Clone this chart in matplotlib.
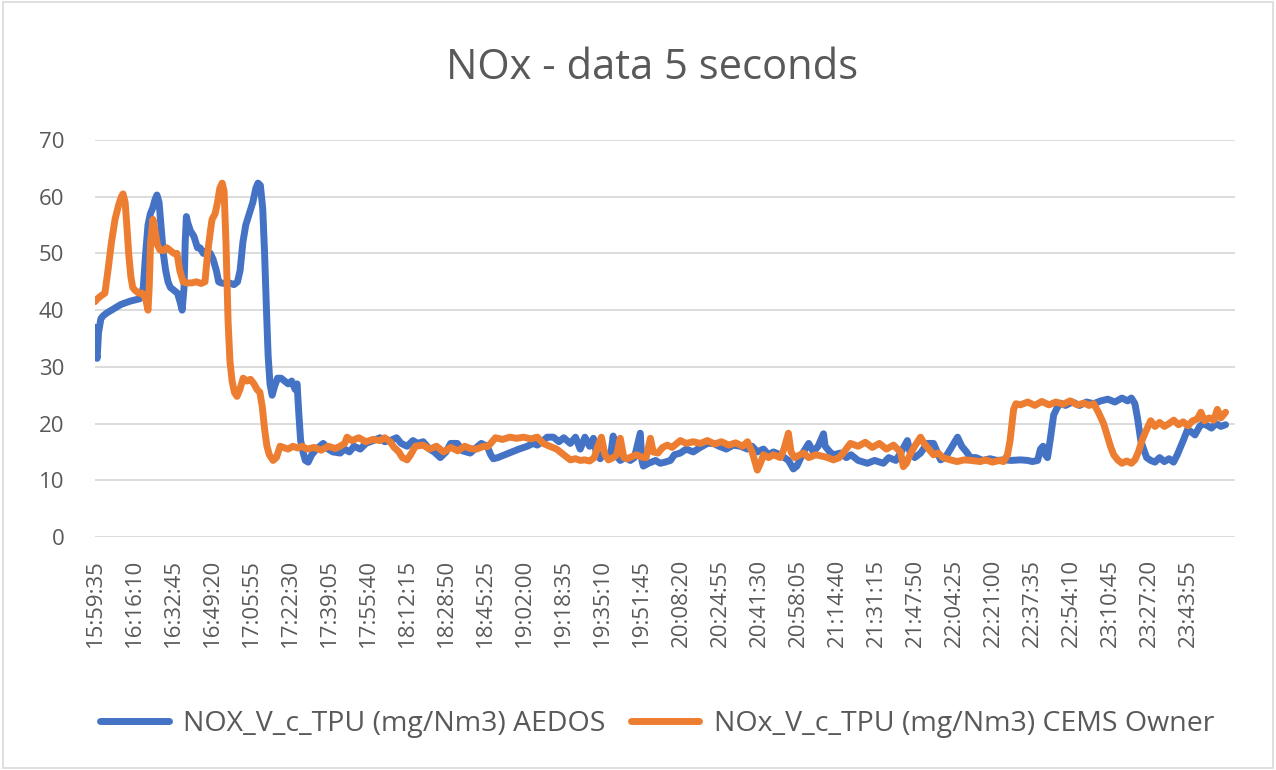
import matplotlib
matplotlib.use("Agg")
import matplotlib.pyplot as plt
from matplotlib.patches import Rectangle

# ---- data (minutes elapsed since 15:59:35, values in mg/Nm3) ----
aedos_t = [0, 0.4, 0.9, 1.5, 2.5, 3.5, 5, 7, 9, 11, 13, 15, 17, 19, 20.5, 21.5, 22.5, 23.5, 24.5, 25.5,
           26.3, 27.2, 28, 29, 30, 31, 32, 33.5, 35, 36.1, 37, 37.8, 38.3, 38.8, 39.3, 40.5, 42, 43.5, 44.6, 46,
           47.5, 49, 50.1, 51.5, 52.5, 53.5, 55, 57, 59, 60.5, 61.6, 62.8, 64, 65.5, 67, 68.3, 69.2, 70.2, 71.2, 72,
           72.8, 73.5, 74.3, 75.2, 76.2, 77.5, 79, 80.5, 82, 83.5, 85, 85.8, 86.5, 87.3, 88.3, 89.3, 90.5, 92, 94, 96.9,
           99, 101, 104.1, 106, 108, 110, 112.6, 115, 118.1, 121, 123, 125.3, 128, 130, 132.5, 135, 137, 139.3, 142, 144,
           146.6, 149, 151, 153.8, 156, 159.3, 162, 164, 166.5, 168, 169.1, 171, 174, 177, 180, 183.5, 186, 187.8, 190.3, 192,
           194.6, 197, 199, 201.8, 204, 206, 208, 210, 211.6, 213, 214.5, 216, 218.8, 220, 221, 223, 225, 227.3, 229, 231.5,
           232.2, 232.8, 235, 238, 240, 242, 244.3, 246, 248.5, 251, 254, 257, 260, 262.5, 265, 268, 271, 274, 277, 279,
           281.2, 283.8, 286, 288, 291, 294.4, 296.5, 298, 300.8, 303, 305, 307, 309.3, 310, 312, 313.5, 316.5, 319, 321, 324,
           327.9, 331, 334.7, 337, 340, 342, 344.9, 346, 348, 350.5, 353.4, 356, 359, 361, 363.2, 366.2, 368, 370, 371.7, 374,
           377, 380, 383, 386, 389, 392.9, 396, 398, 400.2, 401.4, 402.5, 403.5, 404.4, 405.5, 407, 408.5, 409.9, 412, 415, 418,
           421, 424, 427, 430, 433, 436, 438.4, 440, 441.5, 442.6, 444, 445.2, 446.5, 448.2, 450, 452, 454, 456, 457.9, 459.5,
           461, 462.5, 463.9, 465.5, 467, 469, 470.5, 472.4, 474, 476, 478, 480]
aedos_v = [37, 33, 31.5, 36, 38.5, 39, 39.5, 40, 40.5, 41, 41.3, 41.6, 41.8, 42, 44, 50, 55, 57, 58, 59.5,
           60.3, 59, 55, 50, 47, 45, 44, 43.5, 43, 41.5, 40, 44, 52, 56.5, 55.5, 54, 53, 51, 51, 50,
           50.5, 50, 49, 47, 45, 44.8, 44.7, 44.8, 44.5, 45, 47, 52, 55, 57, 59, 61.5, 62.4, 62, 58, 50,
           40, 32, 27, 25, 26.5, 28, 28, 27.5, 27, 27.5, 26, 27, 22, 17, 15, 13.5, 13.2, 14.5, 15.5, 16.5,
           15.5, 15, 14.8, 15.5, 15, 16, 15.5, 16.5, 17, 17.5, 16.8, 17, 17.5, 16.5, 16, 17, 16.5, 16.8, 15.5, 15,
           14, 15, 16.5, 16.5, 15.2, 14.8, 15.8, 16.5, 16, 14.5, 13.8, 14, 14.5, 15, 15.5, 16, 16.5, 16.2, 17, 17.6,
           17.6, 16.8, 17.5, 16.5, 17.6, 15.5, 17.6, 16, 17.4, 14.5, 13.8, 15, 14, 17.8, 14.5, 13.5, 14, 13.5, 14, 18.3,
           13.5, 12.5, 13, 13.5, 13, 13.2, 13.5, 14.5, 14.8, 15.5, 15, 15.8, 16.5, 16.5, 16, 15.5, 16.2, 16, 15.5, 16,
           15, 15.5, 14.5, 15, 14.5, 13.5, 12, 12.5, 15, 16.5, 15, 16, 18.2, 16, 15, 14.5, 14.8, 14, 14.5, 13.5,
           13, 13.5, 13, 14, 13.5, 14.8, 17, 15, 14, 14.8, 16.5, 16.5, 13.6, 14, 15.5, 17.6, 16, 15, 14, 14,
           13.5, 13.8, 13.5, 13.6, 13.5, 13.6, 13.5, 13.3, 13.5, 15.5, 16, 14.5, 14, 17, 21.5, 22.8, 23.6, 23.2, 23.8, 23.2,
           23.8, 23.5, 24, 24.3, 23.8, 24.5, 24, 24.5, 23.5, 21, 17, 15.5, 14, 13.5, 13.2, 14, 13.3, 13.8, 13.2, 14.5,
           16, 17.5, 19, 18.5, 18, 19.5, 20, 19.6, 19.2, 20, 19.5, 19.8]

cems_t = [0, 1, 2.5, 4.2, 5.5, 7, 8.5, 10, 11.2, 11.9, 12.8, 13.5, 14.3, 15.2, 16, 17, 18.5, 20, 21.5, 22.5,
          23, 23.6, 24.6, 25.5, 26.5, 27.6, 29, 30.5, 32, 33.5, 34.8, 36, 37.4, 39, 41, 43, 45, 46.7, 47.8, 49,
          49.7, 51, 52, 53, 54, 54.8, 55.6, 56.5, 57.3, 58.2, 59.2, 60.3, 61.5, 62.9, 64.5, 66, 67.5, 68.8, 70, 71,
          72, 73, 74, 75.6, 77, 78.6, 80, 82, 84, 86, 88, 90, 93, 96, 99, 102, 104, 106, 107, 109,
          112, 115, 118, 121, 123, 125.3, 127, 129, 130.5, 132.5, 134, 136, 139.3, 142, 145, 148, 151, 154, 157, 159.3,
          162, 165, 166.5, 168, 170, 173, 176, 179, 182, 185, 187.8, 190.3, 193, 196, 199, 201.8, 204, 206, 208, 210,
          212, 213.5, 215, 216.5, 218, 220, 221.5, 223, 224.5, 226, 228, 230, 232, 234, 235.8, 237, 239, 241, 243, 245,
          248.5, 251, 254, 257, 260, 263, 266, 269, 272, 275, 277, 279, 281.2, 282.5, 283.8, 286, 288, 291, 292.5, 294.4,
          295.5, 297, 300.8, 303, 306, 309.3, 311, 313.5, 316, 318, 320.7, 324, 327, 330, 333, 336, 339, 342, 343.2, 344.5,
          346, 348, 350.5, 352, 354, 356, 358, 360, 363.2, 366, 369, 372, 375.9, 378, 381, 384, 385.7, 387.4, 388.5, 389.3,
          390, 391, 392.9, 396, 399, 402, 405, 408, 411, 414, 417, 420, 422, 424, 426, 428.2, 430, 431.2, 432.5, 434.2,
          436, 438, 440, 441.5, 443, 444.5, 446, 448.2, 450, 452, 454, 456, 458, 460, 462, 464, 466, 468, 469.5, 471,
          473, 475, 476.5, 478, 480]
cems_v = [41.5, 42, 42.5, 43, 47, 52, 56, 58.5, 60, 60.5, 59, 55, 50, 46, 44, 43.5, 43, 43, 42, 40,
          44, 52, 56, 54, 51.5, 50.6, 50.5, 51, 50.5, 50, 50, 47, 45, 44.8, 44.8, 45, 44.7, 45, 50, 54,
          56, 57, 59, 61.5, 62.4, 61, 52, 38, 31, 27.5, 25.5, 24.8, 26, 28, 27.5, 27.8, 27, 26, 25.5, 23,
          19, 16, 14.5, 13.5, 14, 16, 15.8, 15.5, 16, 15.7, 16, 15.5, 15.8, 15.3, 16, 15.6, 16, 16.5, 17.6, 17,
          17.5, 16.8, 17.2, 17, 17.5, 16.8, 15.8, 15, 14, 13.6, 14.5, 16, 16.2, 15.5, 16, 15, 15.8, 15.2, 16, 15.6,
          15.5, 16, 15.9, 16.5, 17.5, 17.2, 17.6, 17.4, 17.6, 17.3, 17.6, 16.5, 16, 15.5, 14.5, 13.6, 13.8, 13.5, 13.6, 13.4,
          14, 16, 17.6, 14.5, 13.6, 14, 14.5, 17.4, 14, 13.8, 14.2, 14.5, 14.1, 14, 17.4, 15, 14.8, 15.8, 16.2, 15.8,
          17, 16.5, 16.8, 16.5, 17, 16.4, 16.8, 16.2, 16.6, 16, 16.8, 15, 11.8, 13, 14.5, 14, 14.5, 14, 15.5, 18.3,
          15, 14, 14.8, 14, 14.5, 14.2, 14, 13.6, 14, 15, 16.5, 16, 16.7, 15.8, 16.5, 15.5, 16.2, 15, 12.4, 13,
          14.5, 16, 17.6, 16.5, 15.5, 14.5, 14.8, 14, 13.6, 13.3, 13.6, 13.5, 13.3, 13.6, 13.2, 13.5, 13.3, 14.5, 17, 20,
          22.5, 23.5, 23.3, 23.8, 23.2, 23.9, 23.3, 23.8, 23.4, 24, 23.3, 23.6, 23.2, 23.5, 22, 20, 17.5, 15.9, 14.5, 13.6,
          13, 13.4, 13, 13.6, 15, 17, 18.5, 20.5, 19.5, 20.2, 19.5, 20, 20.6, 19.8, 20.3, 19.6, 20.5, 20.8, 22, 20.5,
          21, 20.6, 22.5, 21, 22]

tick_labels = ["15:59:35", "16:16:10", "16:32:45", "16:49:20", "17:05:55", "17:22:30", "17:39:05",
               "17:55:40", "18:12:15", "18:28:50", "18:45:25", "19:02:00", "19:18:35", "19:35:10",
               "19:51:45", "20:08:20", "20:24:55", "20:41:30", "20:58:05", "21:14:40", "21:31:15",
               "21:47:50", "22:04:25", "22:21:00", "22:37:35", "22:54:10", "23:10:45", "23:27:20",
               "23:43:55"]
tick_step_min = 995 / 60.0   # labels every 995 s (199 samples of 5 s)

series_names = ["NOX_V_c_TPU (mg/Nm3) AEDOS", "NOx_V_c_TPU (mg/Nm3) CEMS Owner"]
title = "NOx - data 5 seconds"

# ---- drawing ----
plt.rcParams['font.family'] = ['Open Sans', 'DejaVu Sans']
fig = plt.figure(figsize=(12.76, 7.70), dpi=100)
ax = fig.add_axes([95/1276, 1-537/770, 1140/1276, (537-140)/770])

blue = '#4472C4'
orange = '#ED7D31'
ax.plot(aedos_t, aedos_v, color=blue, lw=5.0, solid_joinstyle='round', solid_capstyle='round',
        label=series_names[0], zorder=3)
ax.plot(cems_t, cems_v, color=orange, lw=5.0, solid_joinstyle='round', solid_capstyle='round',
        label=series_names[1], zorder=4)

ax.set_ylim(0, 70)
ax.set_xlim(0, 484)
ax.set_yticks(range(0, 71, 10))
ax.set_xticks([i * tick_step_min for i in range(len(tick_labels))])
ax.set_xticklabels(tick_labels, rotation=90, va='top', ha='center')
ax.tick_params(axis='both', length=0, colors='#595959', labelsize=16)
ax.tick_params(axis='x', pad=16)
ax.tick_params(axis='y', pad=22)
ax.grid(axis='y', color='#D9D9D9', lw=1.3)
ax.set_axisbelow(True)
for s in ax.spines.values():
    s.set_visible(False)

fig.text(0.511, 1-68/770, title, ha='center', va='center', fontsize=30, color='#595959')

leg = fig.legend(loc='center', bbox_to_anchor=(0.515, 1-724/770), ncol=2, frameon=False,
                 fontsize=20.5, handlelength=2.4, columnspacing=0.9, handletextpad=0.5)
for t in leg.get_texts():
    t.set_color('#595959')

fig.patches.append(Rectangle((0.002, 0.002), 0.996, 0.996, transform=fig.transFigure,
                             fill=False, edgecolor='#D9D9D9', lw=1.2))

fig.savefig('out.png', dpi=100, facecolor='white')
